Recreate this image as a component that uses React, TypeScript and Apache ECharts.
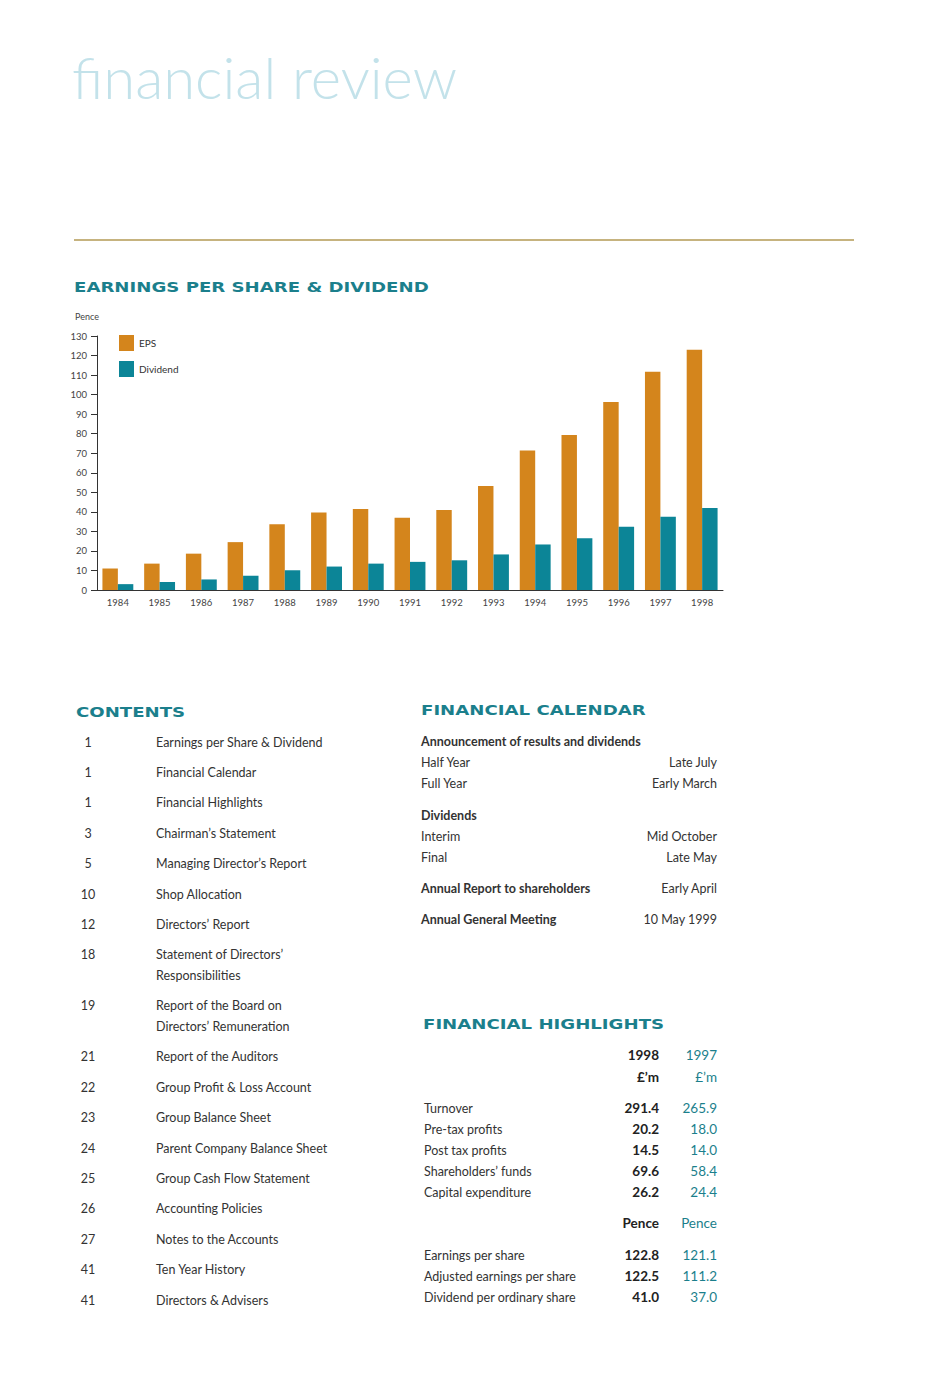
import React, { useEffect, useRef } from "react";
import * as echarts from "echarts";

const years = ["1984", "1985", "1986", "1987", "1988", "1989", "1990", "1991", "1992", "1993", "1994", "1995", "1996", "1997", "1998"];
const eps = [11.0, 13.5, 18.6, 24.5, 33.6, 39.7, 41.4, 37.0, 40.9, 53.2, 71.4, 79.3, 96.2, 111.7, 122.9];
const dividend = [3.0, 4.1, 5.4, 7.3, 10.1, 12.0, 13.5, 14.4, 15.2, 18.2, 23.3, 26.5, 32.4, 37.5, 42.0];

const contentsPages = ["1", "1", "1", "3", "5", "10", "12", "18", "19", "21", "22", "23", "24", "25", "26", "27", "41", "41"];
const contentsTitles = [
  "Earnings per Share & Dividend",
  "Financial Calendar",
  "Financial Highlights",
  "Chairman’s Statement",
  "Managing Director’s Report",
  "Shop Allocation",
  "Directors’ Report",
  "Statement of Directors’\nResponsibilities",
  "Report of the Board on\nDirectors’ Remuneration",
  "Report of the Auditors",
  "Group Profit & Loss Account",
  "Group Balance Sheet",
  "Parent Company Balance Sheet",
  "Group Cash Flow Statement",
  "Accounting Policies",
  "Notes to the Accounts",
  "Ten Year History",
  "Directors & Advisers",
];

const calendarRows: [string, string, boolean, number][] = [
  ["Announcement of results and dividends", "", true, 741],
  ["Half Year", "Late July", false, 762],
  ["Full Year", "Early March", false, 783],
  ["Dividends", "", true, 815],
  ["Interim", "Mid October", false, 836],
  ["Final", "Late May", false, 857],
  ["Annual Report to shareholders", "Early April", true, 888],
  ["Annual General Meeting", "10 May 1999", true, 919],
];

const highlightLabels = ["", "", "Turnover", "Pre-tax profits", "Post tax profits", "Shareholders’ funds", "Capital expenditure", "", "Earnings per share", "Adjusted earnings per share", "Dividend per ordinary share"];
const highlights1998 = ["1998", "£’m", "291.4", "20.2", "14.5", "69.6", "26.2", "Pence", "122.8", "122.5", "41.0"];
const highlights1997 = ["1997", "£’m", "265.9", "18.0", "14.0", "58.4", "24.4", "Pence", "121.1", "111.2", "37.0"];
const highlightY = [1055, 1077, 1108, 1129, 1150, 1171, 1192, 1223, 1255, 1276, 1297];

const BODY = "Lato, 'Open Sans', sans-serif";
const HEAD = "'DejaVu Sans', sans-serif";
const TEAL = "#1b7f8c";
const DARK = "#333333";

function txt(text: string, x: number, y: number, o: any = {}) {
  return {
    type: "text",
    x,
    y,
    scaleX: o.scaleX || 1,
    silent: true,
    style: {
      text,
      fill: o.fill || DARK,
      fontSize: o.size || 12.5,
      fontFamily: o.family || BODY,
      fontWeight: o.weight || "normal",
      align: o.align || "left",
      textAlign: o.align || "left",
      verticalAlign: "middle",
      textVerticalAlign: "middle",
      lineHeight: o.lineHeight || 21,
    },
  };
}

function heading(text: string, x: number, y: number) {
  return txt(text, x, y, { size: 14.5, family: HEAD, weight: "bold", fill: TEAL, scaleX: 1.25 });
}

export default function App() {
  const ref = useRef<HTMLDivElement>(null);
  useEffect(() => {
    document.body.style.margin = "0";
    if (!ref.current) return;
    const chart = echarts.init(ref.current, null, { renderer: "svg" });
    const graphics: any[] = [];
    graphics.push(txt("financial review", 72, 76, { size: 58, fill: "#c3e2ea", weight: 300 }));
    graphics.push({
      type: "line",
      silent: true,
      shape: { x1: 74, y1: 240, x2: 854, y2: 240 },
      style: { stroke: "#b39a55", lineWidth: 1.5 },
    });
    graphics.push(heading("EARNINGS PER SHARE & DIVIDEND", 74, 287));
    graphics.push(heading("CONTENTS", 76, 712));
    graphics.push(heading("FINANCIAL CALENDAR", 421, 710));
    graphics.push(heading("FINANCIAL HIGHLIGHTS", 423, 1024));

    let y = 742;
    contentsTitles.forEach((title, i) => {
      const lines = title.split("\n").length;
      graphics.push(txt(contentsPages[i], 88, y, { align: "center" }));
      graphics.push({ ...txt(title, 156, y + (lines - 1) * 10.5) });
      y += 30.4 + 20.6 * (lines - 1);
    });

    calendarRows.forEach(([label, value, bold, ry]) => {
      graphics.push(txt(label, 421, ry, { weight: bold ? "bold" : "normal" }));
      if (value) graphics.push(txt(value, 717, ry, { align: "right" }));
    });

    highlightY.forEach((hy, i) => {
      if (highlightLabels[i]) graphics.push(txt(highlightLabels[i], 424, hy));
      graphics.push(txt(highlights1998[i], 659, hy, { align: "right", weight: "bold", size: 13.5, fill: "#222" }));
      graphics.push(txt(highlights1997[i], 717, hy, { align: "right", fill: TEAL, size: 13.5 }));
    });

    chart.setOption({
      animation: false,
      backgroundColor: "#ffffff",
      grid: { left: 97, top: 336, width: 626, height: 254, containLabel: false },
      legend: {
        orient: "vertical",
        left: 119,
        top: 335,
        padding: 0,
        itemWidth: 15,
        itemHeight: 16,
        itemGap: 10,
        icon: "rect",
        textStyle: { fontSize: 10, color: "#333", fontFamily: BODY },
        data: ["EPS", "Dividend"],
      },
      xAxis: {
        type: "category",
        data: years,
        axisLine: { lineStyle: { color: "#333", width: 1 } },
        axisTick: { show: false },
        axisLabel: { fontSize: 9.5, color: "#444", margin: 7, fontFamily: BODY },
      },
      yAxis: {
        type: "value",
        min: 0,
        max: 130,
        interval: 10,
        name: "Pence",
        nameLocation: "end",
        nameGap: 15,
        nameTextStyle: { fontSize: 9, color: "#444", fontFamily: BODY, align: "center", padding: [0, 20, 0, 0] },
        axisLine: { show: true, lineStyle: { color: "#333", width: 1 } },
        axisTick: { show: true, length: 6, lineStyle: { color: "#333" } },
        splitLine: { show: false },
        axisLabel: { fontSize: 9.5, color: "#444", margin: 10, fontFamily: BODY },
      },
      series: [
        {
          name: "EPS",
          type: "bar",
          data: eps,
          barGap: "0%",
          barCategoryGap: "26%",
          itemStyle: { color: "#d4851c" },
        },
        {
          name: "Dividend",
          type: "bar",
          data: dividend,
          barGap: "0%",
          barCategoryGap: "26%",
          itemStyle: { color: "#0c8597" },
        },
      ],
      graphic: { elements: graphics },
    });
    return () => chart.dispose();
  }, []);
  return <div ref={ref} style={{ width: 941, height: 1400 }} />;
}
